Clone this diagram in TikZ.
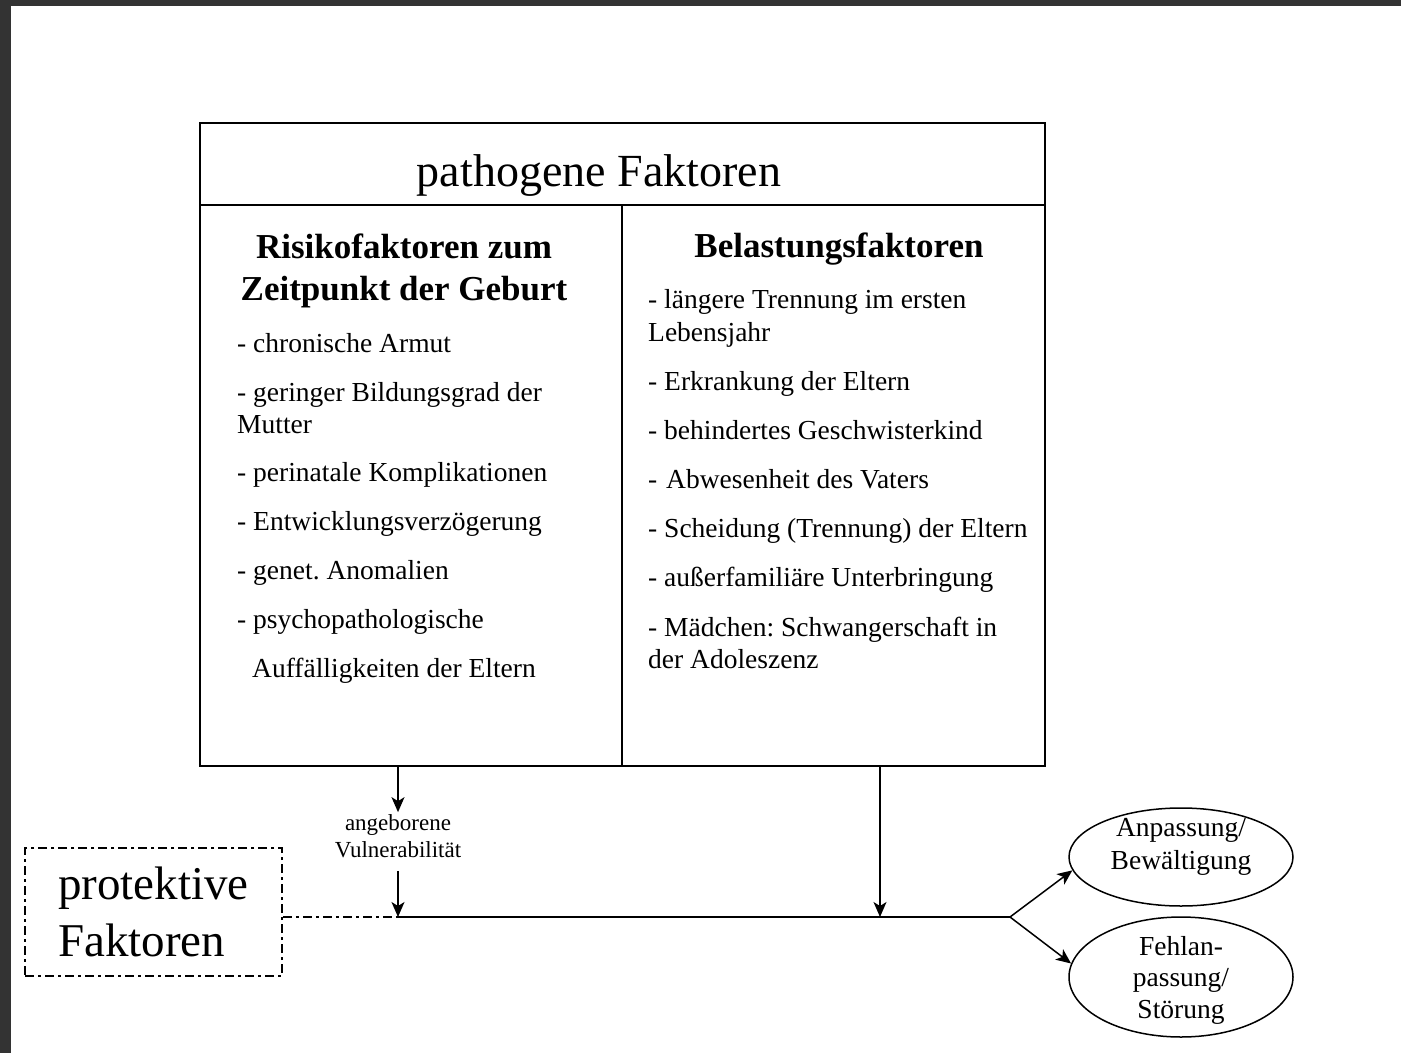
\documentclass[tikz,border=0pt]{standalone}
\usepackage{fontspec}
\setmainfont{Liberation Serif}
\usetikzlibrary{arrows.meta,shapes.geometric}
\definecolor{rahmen}{HTML}{333333}
\frenchspacing

\begin{document}
\begin{tikzpicture}[x=1pt,y=-1pt,
    spalte/.style={draw,line width=1.8pt,minimum height=561pt,inner sep=0pt},
    punkt/.style={anchor=base west,inner sep=0pt,font=\fontsize{27.5}{32.5}\selectfont},
    kopf/.style={anchor=base,inner sep=0pt,font=\fontsize{35}{42}\selectfont\bfseries},
    ergebnis/.style={draw,ellipse,line width=1.5pt,minimum width=224pt,inner sep=0pt},
    pfeil/.style={-{Stealth[length=15pt,width=13pt,inset=4pt]},line width=1.5pt},
    strichpunkt/.style={line width=1.5pt,dash pattern=on 9pt off 4pt on 3pt off 4pt}]
    \useasboundingbox (0,0) rectangle (1401,1053);
    \fill[rahmen] (0,0) rectangle (1401,6);
    \fill[rahmen] (0,0) rectangle (11,1053);

    \node[draw,line width=1.8pt,minimum width=845pt,minimum height=82pt,inner sep=0pt] (kopfzeile) at (622.5,164) {};
    \node[anchor=base,inner sep=0pt,font=\fontsize{46}{53}\selectfont] (titel) at (599,186) {pathogene Faktoren};
    \node[spalte,minimum width=422pt] (risiko) at (411,485.5) {};
    \node[spalte,minimum width=423pt] (belastung) at (833.5,485.5) {};

    \node[kopf] (rk1) at (404,258) {Risikofaktoren zum};
    \node[kopf] (rk2) at (404,300) {Zeitpunkt der Geburt};
    \node[punkt] (r1) at (237,352) {- chronische Armut};
    \node[punkt] (r2) at (237,401) {- geringer Bildungsgrad der};
    \node[punkt] (r2b) at (237,433) {Mutter};
    \node[punkt] (r3) at (237,481) {- perinatale Komplikationen};
    \node[punkt] (r4) at (237,530) {- Entwicklungsverzögerung};
    \node[punkt] (r5) at (237,579) {- genet. Anomalien};
    \node[punkt] (r6) at (237,628) {- psychopathologische};
    \node[punkt] (r6b) at (252,677) {Auffälligkeiten der Eltern};

    \node[kopf] (bk) at (839,257) {Belastungsfaktoren};
    \node[punkt] (b1) at (648,308) {- längere Trennung im ersten};
    \node[punkt] (b1b) at (648,341) {Lebensjahr};
    \node[punkt] (b2) at (648,390) {- Erkrankung der Eltern};
    \node[punkt] (b3) at (648,439) {- behindertes Geschwisterkind};
    \node[punkt] (b4) at (648,488) {- \kern2pt Abwesenheit des Vaters};
    \node[punkt] (b5) at (648,537) {- Scheidung (Trennung) der Eltern};
    \node[punkt] (b6) at (648,586) {- außerfamiliäre Unterbringung};
    \node[punkt] (b7) at (648,636) {- Mädchen: Schwangerschaft in};
    \node[punkt] (b7b) at (648,668) {der Adoleszenz};

    \node[align=center,inner sep=2pt,font=\fontsize{23}{27}\selectfont] (vuln) at (398,836) {angeborene\\Vulnerabilität};
    \node[draw,strichpunkt,minimum width=257pt,minimum height=128pt,align=left,font=\fontsize{47}{57}\selectfont] (schutz) at (153.5,912) {protektive\\Faktoren};

    \node[ergebnis,minimum height=98pt] (anpassung) at (1181,857) {};
    \node[align=center,font=\fontsize{27.5}{32.5}\selectfont] (anptext) at (1181,847) {Anpassung/\\Bewältigung};
    \node[ergebnis,minimum height=120pt] (stoerung) at (1181,977) {};
    \node[align=center,font=\fontsize{27.5}{31.5}\selectfont] (stoertext) at (1181,980) {Fehlan-\\passung/\\Störung};

    \coordinate (knot1) at (398,917);
    \coordinate (knot2) at (880,917);
    \coordinate (gabel) at (1010,917);

    \draw[pfeil] (risiko.south -| vuln) -- (vuln.north);
    \draw[pfeil,shorten <=11pt] (vuln.south) -- (knot1);
    \draw[pfeil] (belastung.south -| knot2) -- (knot2);
    \draw[line width=1.5pt] (knot1) -- (gabel);
    \draw[pfeil] (gabel) -- (anpassung.187);
    \draw[pfeil] (gabel) -- (stoerung.173);
    \draw[strichpunkt] (schutz.east |- knot1) -- (knot1);
\end{tikzpicture}
\end{document}
